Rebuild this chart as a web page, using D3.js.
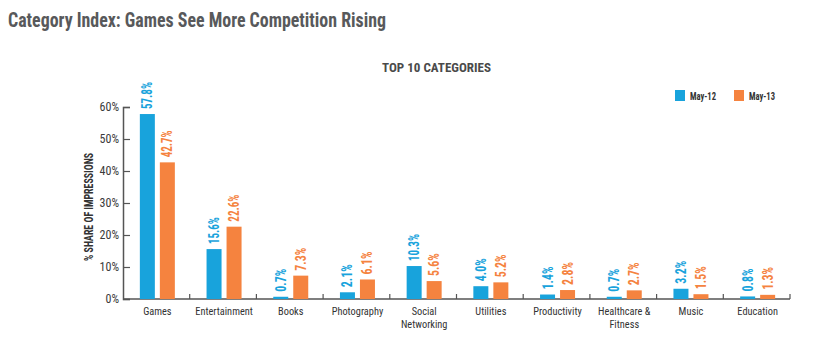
<!DOCTYPE html>
<html>
<head>
<meta charset="utf-8">
<script src="https://cdn.jsdelivr.net/npm/d3@7"></script>
<style>
  body { margin: 0; background: #fff; }
  text { font-family: "Roboto Condensed", "Open Sans", sans-serif; }
</style>
</head>
<body>
<div id="vis"></div>
<script>
const FRAME_WIDTH = 815;
const FRAME_HEIGHT = 341;
const MARGINS = {left: 123, right: 25, top: 107, bottom: 42};

// data
const categories = ["Games", "Entertainment", "Books", "Photography", "Social Networking",
                    "Utilities", "Productivity", "Healthcare & Fitness", "Music", "Education"];
const may12 = [57.8, 15.6, 0.7, 2.1, 10.3, 4.0, 1.4, 0.7, 3.2, 0.8];
const may13 = [42.7, 22.6, 7.3, 6.1, 5.6, 5.2, 2.8, 2.7, 1.5, 1.3];
const seriesNames = ["May-12", "May-13"];
const yTicks = [0, 10, 20, 30, 40, 50, 60];

const COLORS = ["#18a3dc", "#f5833f"];
const BAR_W = 15;
const BAR_GAP = 5;

const VIS_WIDTH = FRAME_WIDTH - MARGINS.left - MARGINS.right;
const VIS_HEIGHT = FRAME_HEIGHT - MARGINS.top - MARGINS.bottom;

const svg = d3.select("#vis")
  .append("svg")
    .attr("width", FRAME_WIDTH)
    .attr("height", FRAME_HEIGHT);

// titles
svg.append("text")
  .attr("x", 8).attr("y", 27)
  .attr("font-size", 20).attr("font-weight", "bold")
  .attr("fill", "#58595b")
  .attr("textLength", 378).attr("lengthAdjust", "spacingAndGlyphs")
  .text("Category Index: Games See More Competition Rising");

svg.append("text")
  .attr("x", 382).attr("y", 72)
  .attr("font-size", 13.5).attr("font-weight", "bold")
  .attr("fill", "#4a4a4a")
  .attr("textLength", 109).attr("lengthAdjust", "spacingAndGlyphs")
  .text("TOP 10 CATEGORIES");

const X_SCALE = d3.scaleBand()
  .domain(categories)
  .range([0, VIS_WIDTH]);

const Y_SCALE = d3.scaleLinear()
  .domain([0, 60])
  .range([VIS_HEIGHT, 0]);

const g = svg.append("g")
  .attr("transform", `translate(${MARGINS.left},${MARGINS.top})`);

// y axis (ticks point inward)
const yAxis = g.append("g")
  .call(d3.axisLeft(Y_SCALE).tickValues(yTicks).tickSize(-7).tickPadding(4)
          .tickFormat(d => d + "%"));
yAxis.select(".domain").attr("stroke", "#555").attr("stroke-width", 1.5);
yAxis.selectAll(".tick line").attr("stroke", "#555").attr("stroke-width", 1.2);
yAxis.selectAll(".tick text")
  .attr("font-size", 12).attr("fill", "#3a3a3a")
  .attr("font-family", "'Roboto Condensed', sans-serif")
  .attr("x", -4);

// x axis baseline
g.append("line")
  .attr("x1", 0).attr("x2", VIS_WIDTH)
  .attr("y1", VIS_HEIGHT).attr("y2", VIS_HEIGHT)
  .attr("stroke", "#555").attr("stroke-width", 1.5);

g.selectAll(".sep")
  .data(categories)
  .enter()
  .append("line")
    .attr("x1", d => X_SCALE(d) + X_SCALE.bandwidth())
    .attr("x2", d => X_SCALE(d) + X_SCALE.bandwidth())
    .attr("y1", VIS_HEIGHT).attr("y2", VIS_HEIGHT - 5)
    .attr("stroke", "#555").attr("stroke-width", 1.2);

// category labels, one text per line, squeezed a little like the condensed original
const labelLines = d => {
  if (d === "Social Networking") return ["Social", "Networking"];
  if (d === "Healthcare & Fitness") return ["Healthcare &", "Fitness"];
  return [d];
};

categories.forEach(c => {
  labelLines(c).forEach((line, li) => {
    g.append("g")
      .attr("transform", `translate(${X_SCALE(c) + X_SCALE.bandwidth() / 2 + 1},${VIS_HEIGHT + 16 + li * 13}) scale(0.9,1)`)
      .append("text")
        .attr("text-anchor", "middle")
        .attr("font-size", 11.5)
        .attr("fill", "#333")
        .text(line);
  });
});

// bars
const seriesData = [may12, may13];
seriesData.forEach((vals, si) => {
  const offset = si === 0 ? -(BAR_W + BAR_GAP / 2) : BAR_GAP / 2;
  const cx = (d, i) => X_SCALE(categories[i]) + X_SCALE.bandwidth() / 2 + 1 + offset;

  g.selectAll(".bar" + si)
    .data(vals)
    .enter()
    .append("rect")
      .attr("x", (d, i) => cx(d, i))
      .attr("y", d => Y_SCALE(d))
      .attr("width", BAR_W)
      .attr("height", d => VIS_HEIGHT - Y_SCALE(d))
      .attr("fill", COLORS[si]);

  g.selectAll(".lbl" + si)
    .data(vals)
    .enter()
    .append("text")
      .attr("transform", (d, i) => `translate(${cx(d, i) + BAR_W / 2 + 5},${Y_SCALE(d) - 5}) rotate(-90)`)
      .attr("font-size", 14.5)
      .attr("font-weight", "bold")
      .attr("fill", COLORS[si])
      .attr("textLength", d => d >= 10 ? 27 : 23)
      .attr("lengthAdjust", "spacingAndGlyphs")
      .text(d => d.toFixed(1) + "%");
});

// y axis title
svg.append("text")
  .attr("transform", `translate(93,207) rotate(-90)`)
  .attr("text-anchor", "middle")
  .attr("font-size", 12)
  .attr("font-weight", "bold")
  .attr("fill", "#333")
  .attr("textLength", 108).attr("lengthAdjust", "spacingAndGlyphs")
  .text("% SHARE OF IMPRESSIONS");

// legend
const legendX = [675, 734];
seriesNames.forEach((name, i) => {
  svg.append("rect")
    .attr("x", legendX[i]).attr("y", 90)
    .attr("width", 10).attr("height", 11)
    .attr("fill", COLORS[i]);
  svg.append("text")
    .attr("x", legendX[i] + 15).attr("y", 100)
    .attr("font-size", 11)
    .attr("font-weight", "bold")
    .attr("fill", "#333")
    .attr("textLength", 26).attr("lengthAdjust", "spacingAndGlyphs")
    .text(name);
});
</script>
</body>
</html>
